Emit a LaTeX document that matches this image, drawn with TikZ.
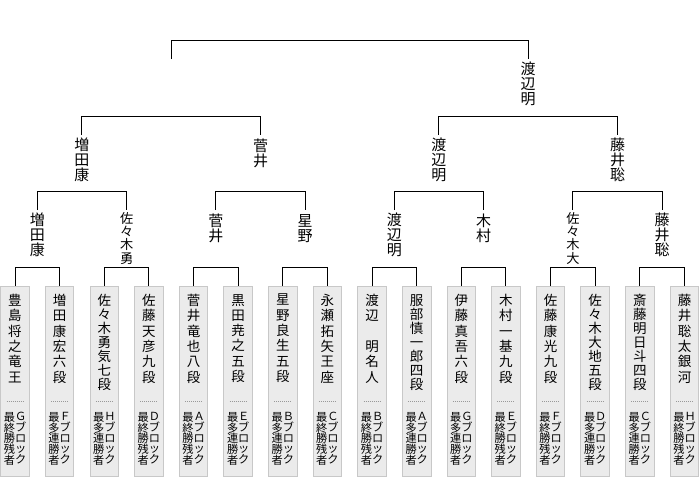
\documentclass[tikz,border=0pt]{standalone}
\usepackage{fontspec}
\newfontfamily\jp{Noto Sans CJK JP}
\definecolor{boxfill}{HTML}{EBEBEB}
\definecolor{boxedge}{HTML}{C8C8C8}
\definecolor{dotc}{HTML}{999999}
\newcommand\ksz{最\\終\\勝\\残\\者}
\newcommand\krs{最\\多\\連\\勝\\者}
\newcommand\kblk[1]{#1\\ブ\\ロ\\ッ\\ク}
\tikzset{
  br/.style={line width=1pt, black},
  entrybox/.style={draw=boxedge, fill=boxfill, line width=1pt, minimum width=28.6pt, minimum height=190pt, inner sep=0pt, anchor=north},
  nmtext/.style={align=center, inner sep=0pt, anchor=north},
  blktext/.style={font=\jp\fontsize{11.2}{10.8}\selectfont, align=center, inner sep=0pt, anchor=north},
  lbl/.style={font=\jp\fontsize{15}{15}\selectfont, align=center, inner sep=0pt, anchor=north},
  lblsm/.style={font=\jp\fontsize{13.2}{13.3}\selectfont, align=center, inner sep=0pt, anchor=north},
  dotline/.style={dotc, line width=0.8pt, dash pattern=on 0.8pt off 1.2pt}
}
\begin{document}
\begin{tikzpicture}[x=1pt,y=-1pt]
\useasboundingbox (0,0) rectangle (700,480);
% entry boxes
\foreach \i/\cx/\nm/\p/\lt/\kd in {
0/15.0/{豊\\島\\将\\之\\竜\\王}/15.3pt/Ｇ/\ksz,
1/59.6/{増\\田\\康\\宏\\六\\段}/15.3pt/Ｆ/\krs,
2/104.3/{佐\\々\\木\\勇\\気\\七\\段}/14pt/Ｈ/\krs,
3/148.9/{佐\\藤\\天\\彦\\九\\段}/15.3pt/Ｄ/\ksz,
4/193.5/{菅\\井\\竜\\也\\八\\段}/15.3pt/Ａ/\ksz,
5/238.2/{黒\\田\\尭\\之\\五\\段}/15.3pt/Ｅ/\krs,
6/282.8/{星\\野\\良\\生\\五\\段}/15.3pt/Ｂ/\krs,
7/327.4/{永\\瀬\\拓\\矢\\王\\座}/15.3pt/Ｃ/\ksz,
8/372.0/{渡\\辺\\　\\明\\名\\人}/15.3pt/Ｂ/\ksz,
9/416.7/{服\\部\\慎\\一\\郎\\四\\段}/14pt/Ａ/\krs,
10/461.3/{伊\\藤\\真\\吾\\六\\段}/15.3pt/Ｇ/\krs,
11/505.9/{木\\村\\一\\基\\九\\段}/15.3pt/Ｅ/\ksz,
12/550.6/{佐\\藤\\康\\光\\九\\段}/15.3pt/Ｆ/\ksz,
13/595.2/{佐\\々\\木\\大\\地\\五\\段}/14pt/Ｄ/\krs,
14/639.8/{斎\\藤\\明\\日\\斗\\四\\段}/14pt/Ｃ/\krs,
15/684.5/{藤\\井\\聡\\太\\銀\\河}/15.3pt/Ｈ/\ksz}{
  \node[entrybox] (b\i) at (\cx,286) {};
  \node[nmtext, font={\jp\fontsize{13.5}{\p}\selectfont}] (n\i) at (\cx,294) {\nm};
  \draw[dotline] (\cx-8.5,401) -- (\cx+8.5,401);
  \node[blktext] (r\i) at (\cx+5.6,412) {\kblk{\lt}};
  \node[blktext] (k\i) at (\cx-5.6,412) {\kd};
}
% first round brackets
\foreach \a/\b in {0/1,2/3,4/5,6/7,8/9,10/11,12/13,14/15}
  \draw[br] (b\a.north) -- ++(0,-19) -| (b\b.north);
% second round
\coordinate (t0) at (37.3,210);
\coordinate (t1) at (126.6,210);
\coordinate (t2) at (215.85,210);
\coordinate (t3) at (305.1,210);
\coordinate (t4) at (394.35,210);
\coordinate (t5) at (483.6,210);
\coordinate (t6) at (572.9,210);
\coordinate (t7) at (662.15,210);
\node[lbl] (m0) at (37.3,213) {増\\田\\康};
\node[lblsm] (m1) at (126.6,212) {佐\\々\\木\\勇};
\node[lbl] (m2) at (215.85,214) {菅\\井};
\node[lbl] (m3) at (305.1,214) {星\\野};
\node[lbl] (m4) at (394.35,213) {渡\\辺\\明};
\node[lbl] (m5) at (483.6,214) {木\\村};
\node[lblsm] (m6) at (572.9,212) {佐\\々\\木\\大};
\node[lbl] (m7) at (662.15,213) {藤\\井\\聡};
\foreach \a/\b in {0/1,2/3,4/5,6/7}
  \draw[br] (t\a) -- ++(0,-19) -| (t\b);
% semifinal
\coordinate (s0) at (81.95,135);
\coordinate (s1) at (260.5,135);
\coordinate (s2) at (438.98,135);
\coordinate (s3) at (617.5,135);
\node[lbl] (q0) at (81.95,138) {増\\田\\康};
\node[lbl] (q1) at (260.5,139) {菅\\井};
\node[lbl] (q2) at (438.98,138) {渡\\辺\\明};
\node[lbl] (q3) at (617.5,138) {藤\\井\\聡};
\draw[br] (s0) -- ++(0,-19) -| (s1);
\draw[br] (s2) -- ++(0,-19) -| (s3);
% final
\coordinate (u0) at (171.2,59);
\coordinate (u1) at (528.2,59);
\node[lbl] (w1) at (528.2,62) {渡\\辺\\明};
\draw[br] (u0) -- ++(0,-19) -| (u1);
\end{tikzpicture}
\end{document}
